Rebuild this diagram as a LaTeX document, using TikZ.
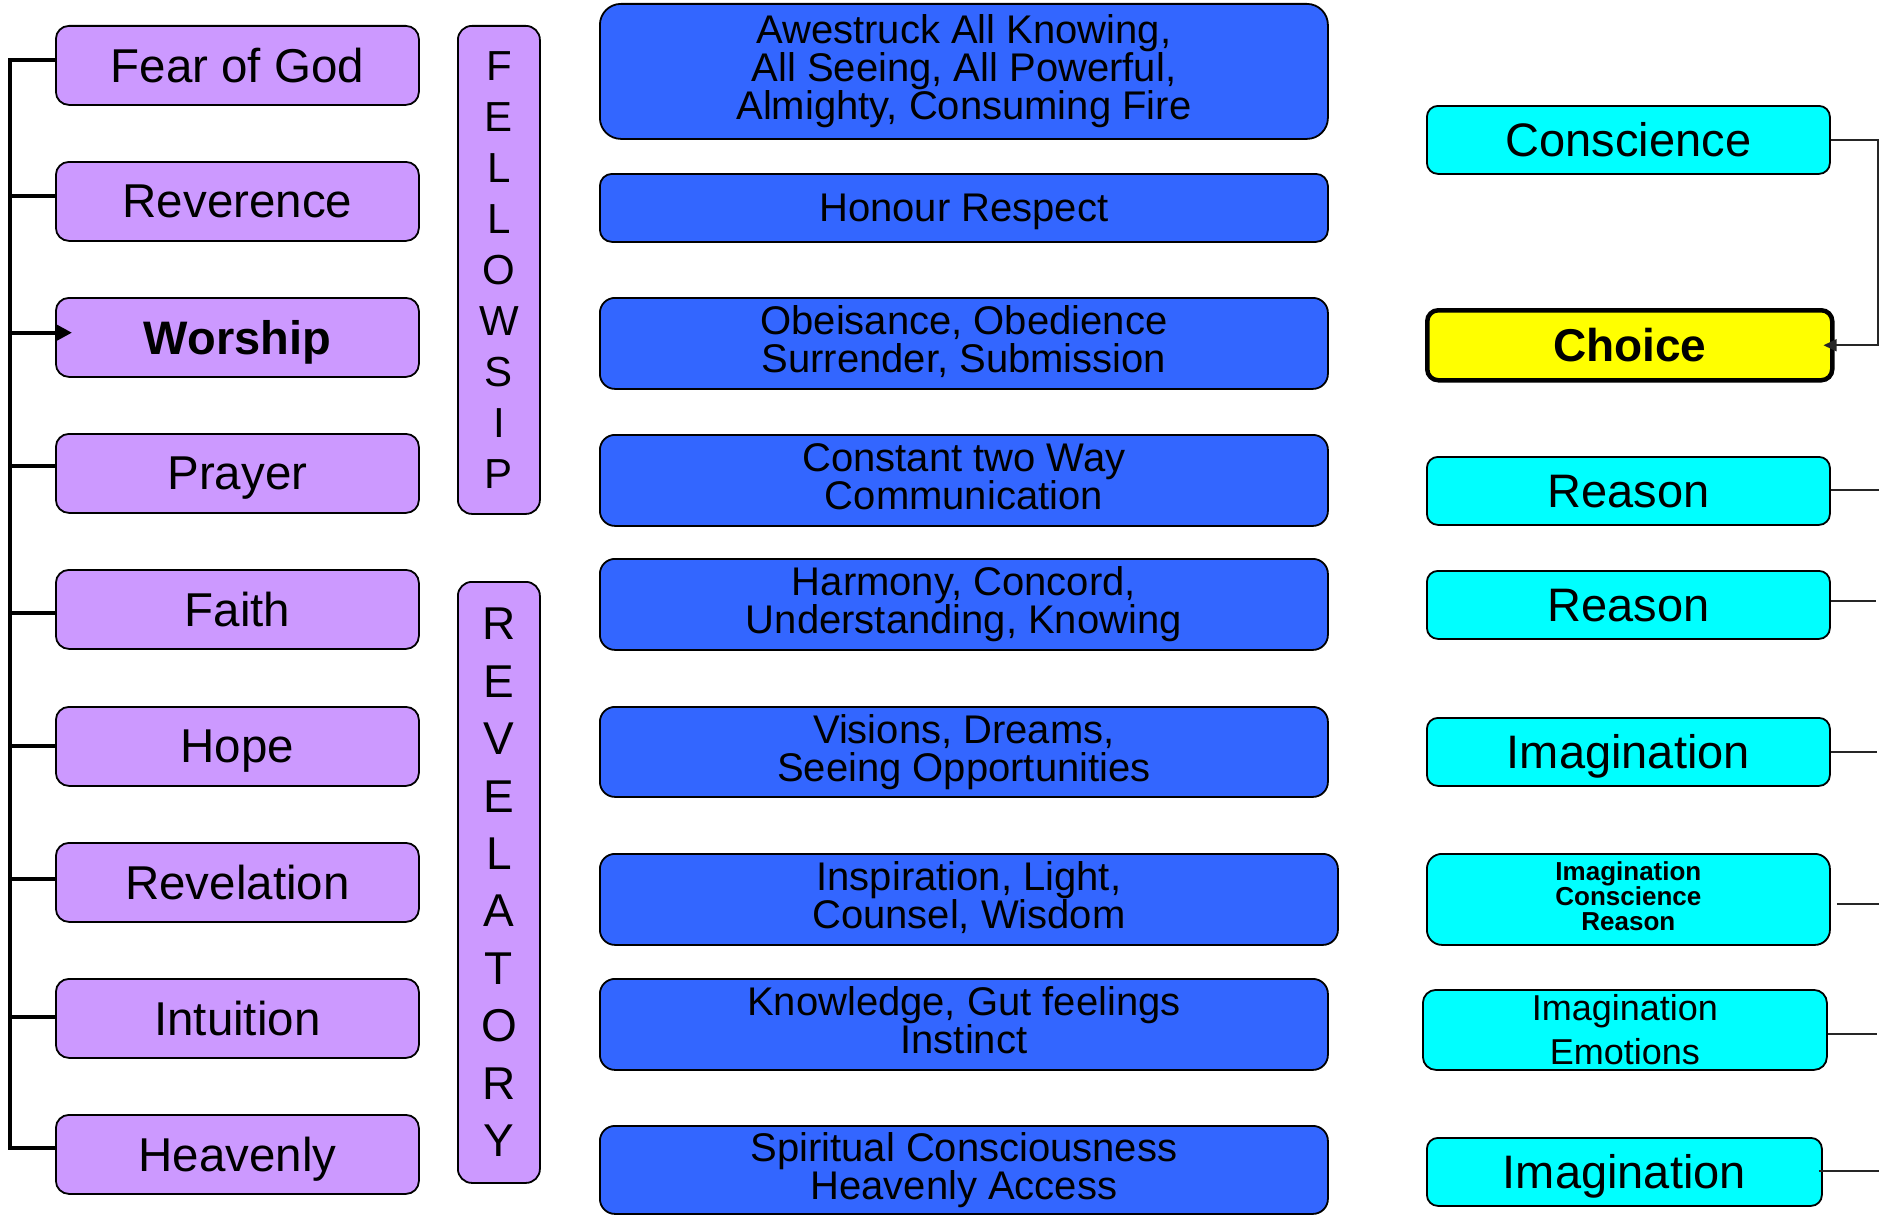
\documentclass[tikz,border=0pt]{standalone}
\usepackage{fontspec}
\setmainfont{Liberation Sans}
\usetikzlibrary{arrows.meta}
\definecolor{lilac}{HTML}{CC99FF}
\definecolor{royal}{HTML}{3366FF}
\definecolor{aqua}{HTML}{00FFFF}
\definecolor{yel}{HTML}{FFFF00}
\newcommand\lastl[1]{\smash{#1}\rule[-8pt]{0pt}{8pt}}
\newcommand\lasts[1]{\smash{#1}\rule[-6pt]{0pt}{6pt}}
\begin{document}
\begin{tikzpicture}[x=1pt,y=-1pt,
  box/.style={draw=black, line width=1.8pt, inner sep=0pt, align=center, anchor=north west},
  lbox/.style={box, fill=lilac, minimum width=363pt, minimum height=79pt, rounded corners=13pt,
     font=\fontsize{47.5}{50}\selectfont, text depth=0pt},
  vbox/.style={box, fill=lilac, minimum width=82pt, rounded corners=14pt},
  mbox/.style={box, fill=royal, minimum width=728pt, rounded corners=15pt,
     font=\fontsize{40}{38}\selectfont},
  rbox/.style={box, fill=aqua, minimum width=403pt, minimum height=68pt, rounded corners=11pt,
     font=\fontsize{47}{50}\selectfont},
  tree/.style={line width=4pt, draw=black},
  link/.style={line width=1.6pt, draw=black!85},
]
\useasboundingbox (0,0) rectangle (1879,1215);

% left column
\node[lbox] (fear) at (55,25) {Fear of God};
\node[lbox] (reve) at (55,161) {Reverence};
\node[lbox, font=\fontsize{47}{50}\selectfont\bfseries] (wors) at (55,297) {Worship};
\node[lbox] (pray) at (55,433) {Prayer};
\node[lbox] (fait) at (55,569) {Faith};
\node[lbox] (hope) at (55,706) {Hope};
\node[lbox] (reva) at (55,842) {Revelation};
\node[lbox] (intu) at (55,978) {Intuition};
\node[lbox] (heav) at (55,1114) {Heavenly};

% vertical words
\node[vbox, minimum height=488pt, font=\fontsize{42}{51}\selectfont] (fel) at (457,25)
  {F\\E\\L\\L\\O\\W\\S\\I\\P};
\node[vbox, minimum height=601pt, font=\fontsize{46}{57.4}\selectfont] (rev) at (457,581)
  {R\\E\\V\\E\\L\\A\\T\\O\\R\\Y};

% middle column
\node[mbox, minimum height=135pt, rounded corners=21pt] (m1) at (599,3)
  {Awestruck All Knowing,\\All Seeing, All Powerful,\\\lastl{Almighty, Consuming Fire}};
\node[mbox, minimum height=68pt, rounded corners=12pt, text depth=0pt] (m2) at (599,173)
  {Honour Respect};
\node[mbox, minimum height=91pt] (m3) at (599,297)
  {Obeisance, Obedience\\\lastl{Surrender, Submission}};
\node[mbox, minimum height=91pt] (m4) at (599,434)
  {Constant two Way\\\lastl{Communication}};
\node[mbox, minimum height=91pt] (m5) at (599,558)
  {Harmony, Concord,\\\lastl{Understanding, Knowing}};
\node[mbox, minimum height=90pt] (m6) at (599,706)
  {Visions, Dreams,\\\lastl{Seeing Opportunities}};
\node[mbox, minimum height=91pt, minimum width=738pt] (m7) at (599,853)
  {Inspiration, Light,\\\lastl{Counsel, Wisdom}};
\node[mbox, minimum height=91pt] (m8) at (599,978)
  {Knowledge, Gut feelings\\\lastl{Instinct}};
\node[mbox, minimum height=88pt] (m9) at (599,1125)
  {Spiritual Consciousness\\\lastl{Heavenly Access}};

% right column
\node[rbox, text depth=0pt] (con) at (1426,105) {Conscience};
\node[rbox, fill=yel, line width=4.5pt, minimum width=405pt, minimum height=70pt,
  font=\fontsize{46}{50}\selectfont\bfseries, text depth=0pt] (cho) at (1425,308) {Choice};
\node[rbox, text depth=0pt] (re1) at (1426,456) {Reason};
\node[rbox, text depth=0pt] (re2) at (1426,570) {Reason};
\node[rbox, text depth=0pt] (im1) at (1426,717) {Imagination};
\node[rbox, minimum height=91pt, rounded corners=15pt, font=\fontsize{26}{25}\selectfont\bfseries] (icr) at (1426,853)
  {Imagination\\Conscience\\\lasts{Reason}};
\node[rbox, minimum height=80pt, minimum width=404pt, rounded corners=13pt, font=\fontsize{36}{44}\selectfont] (ie) at (1422,989)
  {Imagination\\\smash{Emotions}};
\node[rbox, minimum width=395pt, text depth=0pt] (im2) at (1426,1137) {Imagination};

% left tree
\coordinate (spine) at (9.5,0);
\path ([yshift=5.5pt]fear.west) coordinate (cfear)
      ([yshift=5.6pt]reve.west) coordinate (creve)
      ([yshift=4.7pt]wors.west) coordinate (cwors)
      ([yshift=7pt]pray.west) coordinate (cpray)
      ([yshift=-3.6pt]fait.west) coordinate (cfait)
      ([yshift=0pt]hope.west) coordinate (chope)
      ([yshift=3pt]reva.west) coordinate (creva)
      ([yshift=1pt]intu.west) coordinate (cintu)
      ([yshift=6pt]heav.west) coordinate (cheav);
\draw[tree] ([xshift=2pt]cfear) -- (cfear -| spine) -- (cheav -| spine) -- ([xshift=2pt]cheav);
\foreach \c in {creve,cpray,cfait,chope,creva,cintu}
  \draw[tree] (\c -| spine) -- ([xshift=2pt]\c);
\draw[tree, -{Triangle[length=17pt,width=17pt]}] (cwors -| spine) -- ([xshift=17pt]cwors);

% right connectors
\coordinate (turn) at (1878,0);
\draw[link, -{Triangle[length=13pt,width=12pt]}] (con.east) -- (con.east -| turn) -- (cho.east -| turn) -- ([xshift=-11pt]cho.east);
\coordinate (e1) at (1879,490);
\coordinate (e2) at (1876,601);
\coordinate (e3) at (1877,752);
\coordinate (e4) at (1879,904);
\coordinate (e5) at (1877,1034);
\coordinate (e6) at (1879,1171);
\draw[link] (re1.east |- e1) -- (e1);
\draw[link] (re2.east |- e2) -- (e2);
\draw[link] (im1.east |- e3) -- (e3);
\draw[link] ([xshift=6pt]icr.east |- e4) -- (e4);
\draw[link] (ie.east |- e5) -- (e5);
\draw[link] ([xshift=-4pt]im2.east |- e6) -- (e6);
\end{tikzpicture}
\end{document}
